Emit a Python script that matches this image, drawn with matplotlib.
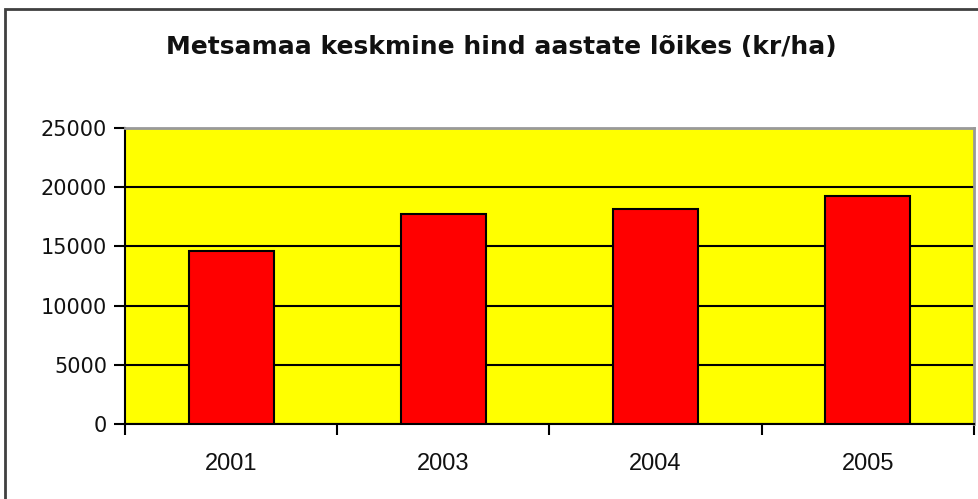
# Bar chart: Metsamaa keskmine hind aastate lõikes (kr/ha)
import matplotlib
matplotlib.use('Agg')
import matplotlib.pyplot as plt
from matplotlib.patches import Rectangle

# Data
years = ['2001', '2003', '2004', '2005']
prices = [14650, 17750, 18200, 19250]
y_ticks = [0, 5000, 10000, 15000, 20000, 25000]
title = 'Metsamaa keskmine hind aastate lõikes (kr/ha)'

plt.rcParams['font.family'] = ['DejaVu Sans']

W, H = 979, 499
fig = plt.figure(figsize=(W / 100, H / 100), dpi=100)
fig.patch.set_facecolor('white')

# Outer chart frame (cut off at right and bottom like the reference)
frame = Rectangle((5 / W, -0.1), 1.2, 1 - 9 / H + 0.1, transform=fig.transFigure,
                  fill=False, edgecolor='#404040', linewidth=2)
fig.patches.append(frame)

ax = fig.add_axes([125 / W, 1 - 424 / H, (974 - 125) / W, (424 - 128) / H])
ax.set_facecolor('#FFFF00')

x = list(range(len(years)))
ax.bar(x, prices, width=0.4, color='#FF0000', edgecolor='black', linewidth=1.5, zorder=3)

ax.set_xlim(-0.5, len(years) - 0.5)
ax.set_ylim(0, 25000)
ax.set_yticks(y_ticks)
ax.set_yticklabels([str(v) for v in y_ticks], fontsize=15, color='#111111')
ax.yaxis.grid(True, color='black', linewidth=1.5, zorder=1)
ax.set_axisbelow(True)

# Category labels in the middle, tick marks on the boundaries
ax.set_xticks(x)
ax.set_xticklabels(years, fontsize=17, family='Liberation Sans', color='#111111')
ax.tick_params(axis='x', which='major', length=0, pad=21)
ax.set_xticks([i - 0.5 for i in range(len(years) + 1)], minor=True)
ax.tick_params(axis='x', which='minor', length=8, width=1.5, direction='out')
ax.tick_params(axis='y', length=8, width=1.5, direction='out', pad=5)

for side in ['left', 'bottom']:
    ax.spines[side].set_color('black')
    ax.spines[side].set_linewidth(1.5)
for side in ['top', 'right']:
    ax.spines[side].set_color('#999999')
    ax.spines[side].set_linewidth(2)

fig.text(501 / W, 1 - 47 / H, title, ha='center', va='center',
         fontsize=18, fontweight='bold', color='#111111')

fig.savefig('out.png', dpi=100)
